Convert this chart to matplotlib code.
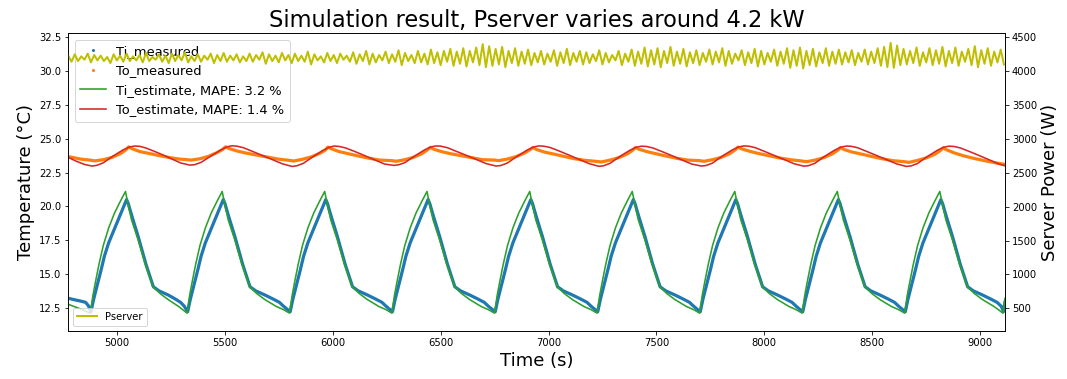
import numpy as np
import matplotlib
matplotlib.use("Agg")
import matplotlib.pyplot as plt
from matplotlib.lines import Line2D

title = "Simulation result, Pserver varies around 4.2 kW"
x_label = "Time (s)"
y_label = "Temperature (°C)"
y2_label = "Server Power (W)"

# Ti measured (blue)
ti_meas_t = [4775, 4800, 4830, 4855, 4868,
             4880, 4892, 4911, 4927, 4942, 4962, 4988, 5017, 5045,
             5053, 5060, 5073, 5099, 5135, 5169, 5195, 5238, 5270, 5295, 5313,
             5328, 5340, 5359, 5375, 5390, 5410, 5436, 5465, 5493,
             5501, 5508, 5521, 5547, 5583, 5617, 5643, 5686, 5723, 5753, 5773,
             5803, 5815, 5834, 5850, 5865, 5885, 5911, 5940, 5968,
             5976, 5983, 5996, 6022, 6058, 6092, 6118, 6161, 6198, 6228, 6248,
             6277, 6289, 6308, 6324, 6339, 6359, 6385, 6414, 6442,
             6450, 6457, 6470, 6496, 6532, 6566, 6592, 6635, 6672, 6702, 6722,
             6753, 6765, 6784, 6800, 6815, 6835, 6861, 6890, 6918,
             6926, 6933, 6946, 6972, 7008, 7042, 7068, 7111, 7148, 7178, 7198,
             7228, 7240, 7259, 7275, 7290, 7310, 7336, 7365, 7393,
             7401, 7408, 7421, 7447, 7483, 7517, 7543, 7586, 7623, 7653, 7673,
             7703, 7715, 7734, 7750, 7765, 7785, 7811, 7840, 7868,
             7876, 7883, 7896, 7922, 7958, 7992, 8018, 8061, 8098, 8128, 8148,
             8178, 8190, 8209, 8225, 8240, 8260, 8286, 8315, 8343,
             8351, 8358, 8371, 8397, 8433, 8467, 8493, 8536, 8573, 8603, 8623,
             8653, 8665, 8684, 8700, 8715, 8735, 8761, 8790, 8818,
             8826, 8833, 8846, 8872, 8908, 8942, 8968, 9011, 9048, 9078, 9098,
             9108, 9115]
ti_meas = [13.2, 13.1, 13.0, 12.9, 12.65,
           12.2, 13.1, 14.3, 15.3, 16.3, 17.3, 18.3, 19.4, 20.5,
           20.2, 19.8, 19.1, 17.75, 15.7, 14.05, 13.75, 13.44, 13.15, 12.9, 12.6,
           12.2, 13.1, 14.3, 15.3, 16.3, 17.3, 18.3, 19.4, 20.5,
           20.2, 19.8, 19.1, 17.75, 15.7, 14.05, 13.75, 13.44, 13.15, 12.9, 12.6,
           12.2, 13.1, 14.3, 15.3, 16.3, 17.3, 18.3, 19.4, 20.5,
           20.2, 19.8, 19.1, 17.75, 15.7, 14.05, 13.75, 13.44, 13.15, 12.9, 12.6,
           12.2, 13.1, 14.3, 15.3, 16.3, 17.3, 18.3, 19.4, 20.5,
           20.2, 19.8, 19.1, 17.75, 15.7, 14.05, 13.75, 13.44, 13.15, 12.9, 12.6,
           12.2, 13.1, 14.3, 15.3, 16.3, 17.3, 18.3, 19.4, 20.5,
           20.2, 19.8, 19.1, 17.75, 15.7, 14.05, 13.75, 13.44, 13.15, 12.9, 12.6,
           12.2, 13.1, 14.3, 15.3, 16.3, 17.3, 18.3, 19.4, 20.5,
           20.2, 19.8, 19.1, 17.75, 15.7, 14.05, 13.75, 13.44, 13.15, 12.9, 12.6,
           12.2, 13.1, 14.3, 15.3, 16.3, 17.3, 18.3, 19.4, 20.5,
           20.2, 19.8, 19.1, 17.75, 15.7, 14.05, 13.75, 13.44, 13.15, 12.9, 12.6,
           12.2, 13.1, 14.3, 15.3, 16.3, 17.3, 18.3, 19.4, 20.5,
           20.2, 19.8, 19.1, 17.75, 15.7, 14.05, 13.75, 13.44, 13.15, 12.9, 12.6,
           12.2, 13.1, 14.3, 15.3, 16.3, 17.3, 18.3, 19.4, 20.5,
           20.2, 19.8, 19.1, 17.75, 15.7, 14.05, 13.75, 13.44, 13.15, 12.9, 12.6,
           12.2, 12.9]

# Ti estimate (green)
ti_est_t = [4775, 4825,
            4877, 4889, 4902, 4917, 4937, 4962, 4989, 5017, 5040,
            5050, 5068, 5099, 5130, 5168, 5200, 5238, 5290,
            5325, 5337, 5350, 5365, 5385, 5410, 5437, 5465, 5488,
            5498, 5516, 5547, 5578, 5616, 5648, 5686, 5738, 5773,
            5800, 5812, 5825, 5840, 5860, 5885, 5912, 5940, 5963,
            5973, 5991, 6022, 6053, 6091, 6123, 6161, 6213, 6248,
            6274, 6286, 6299, 6314, 6334, 6359, 6386, 6414, 6437,
            6447, 6465, 6496, 6527, 6565, 6597, 6635, 6687, 6722,
            6750, 6762, 6775, 6790, 6810, 6835, 6862, 6890, 6913,
            6923, 6941, 6972, 7003, 7041, 7073, 7111, 7163, 7198,
            7225, 7237, 7250, 7265, 7285, 7310, 7337, 7365, 7388,
            7398, 7416, 7447, 7478, 7516, 7548, 7586, 7638, 7673,
            7700, 7712, 7725, 7740, 7760, 7785, 7812, 7840, 7863,
            7873, 7891, 7922, 7953, 7991, 8023, 8061, 8113, 8148,
            8175, 8187, 8200, 8215, 8235, 8260, 8287, 8315, 8338,
            8348, 8366, 8397, 8428, 8466, 8498, 8536, 8588, 8623,
            8650, 8662, 8675, 8690, 8710, 8735, 8762, 8790, 8813,
            8823, 8841, 8872, 8903, 8941, 8973, 9011, 9063, 9085,
            9105, 9115]
ti_est = [12.75, 12.45,
          12.1, 13.4, 14.5, 15.7, 17.1, 18.4, 19.5, 20.4, 21.1,
          20.3, 19.0, 17.5, 15.8, 14.05, 13.55, 13.1, 12.55,
          12.1, 13.4, 14.5, 15.7, 17.1, 18.4, 19.5, 20.4, 21.1,
          20.3, 19.0, 17.5, 15.8, 14.05, 13.55, 13.1, 12.6, 12.35,
          12.1, 13.4, 14.5, 15.7, 17.1, 18.4, 19.5, 20.4, 21.1,
          20.3, 19.0, 17.5, 15.8, 14.05, 13.55, 13.1, 12.6, 12.35,
          12.1, 13.4, 14.5, 15.7, 17.1, 18.4, 19.5, 20.4, 21.1,
          20.3, 19.0, 17.5, 15.8, 14.05, 13.55, 13.1, 12.6, 12.35,
          12.1, 13.4, 14.5, 15.7, 17.1, 18.4, 19.5, 20.4, 21.1,
          20.3, 19.0, 17.5, 15.8, 14.05, 13.55, 13.1, 12.6, 12.35,
          12.1, 13.4, 14.5, 15.7, 17.1, 18.4, 19.5, 20.4, 21.1,
          20.3, 19.0, 17.5, 15.8, 14.05, 13.55, 13.1, 12.6, 12.35,
          12.1, 13.4, 14.5, 15.7, 17.1, 18.4, 19.5, 20.4, 21.1,
          20.3, 19.0, 17.5, 15.8, 14.05, 13.55, 13.1, 12.6, 12.35,
          12.1, 13.4, 14.5, 15.7, 17.1, 18.4, 19.5, 20.4, 21.1,
          20.3, 19.0, 17.5, 15.8, 14.05, 13.55, 13.1, 12.6, 12.35,
          12.1, 13.4, 14.5, 15.7, 17.1, 18.4, 19.5, 20.4, 21.1,
          20.3, 19.0, 17.5, 15.8, 14.05, 13.55, 13.1, 12.6, 12.35,
          12.1, 13.2]

# To measured (orange)
to_meas_t = [4775, 4800, 4830, 4855,
             4877, 4897, 4937, 4977, 5017, 5042, 5055, 5072, 5107, 5147, 5197, 5247, 5287,
             5325, 5345, 5385, 5425, 5465, 5490, 5503, 5520, 5555, 5595, 5645, 5695, 5745,
             5800, 5820, 5860, 5900, 5940, 5965, 5978, 5995, 6030, 6070, 6120, 6170, 6220,
             6274, 6294, 6334, 6374, 6414, 6439, 6452, 6469, 6504, 6544, 6594, 6644, 6694,
             6750, 6770, 6810, 6850, 6890, 6915, 6928, 6945, 6980, 7020, 7070, 7120, 7170,
             7225, 7245, 7285, 7325, 7365, 7390, 7403, 7420, 7455, 7495, 7545, 7595, 7645,
             7700, 7720, 7760, 7800, 7840, 7865, 7878, 7895, 7930, 7970, 8020, 8070, 8120,
             8175, 8195, 8235, 8275, 8315, 8340, 8353, 8370, 8405, 8445, 8495, 8545, 8595,
             8650, 8670, 8710, 8750, 8790, 8815, 8828, 8845, 8880, 8920, 8970, 9020, 9070,
             9115]
to_meas = [23.68, 23.6, 23.5, 23.45,
           23.42, 23.36, 23.45, 23.62, 23.9, 24.18, 24.4, 24.25, 24.05, 23.92, 23.75, 23.6, 23.5,
           23.45, 23.42, 23.52, 23.7, 23.98, 24.2, 24.4, 24.28, 24.1, 23.95, 23.8, 23.65, 23.5,
           23.4, 23.35, 23.48, 23.65, 23.92, 24.15, 24.38, 24.25, 24.05, 23.9, 23.72, 23.55, 23.42,
           23.38, 23.33, 23.45, 23.62, 23.9, 24.18, 24.36, 24.22, 24.05, 23.9, 23.75, 23.6, 23.45,
           23.42, 23.38, 23.5, 23.68, 23.95, 24.2, 24.35, 24.2, 24.02, 23.88, 23.7, 23.52, 23.4,
           23.32, 23.28, 23.42, 23.6, 23.88, 24.15, 24.35, 24.22, 24.05, 23.9, 23.72, 23.55, 23.42,
           23.38, 23.33, 23.45, 23.62, 23.9, 24.18, 24.38, 24.25, 24.08, 23.92, 23.75, 23.58, 23.45,
           23.35, 23.3, 23.42, 23.6, 23.88, 24.15, 24.35, 24.2, 24.02, 23.88, 23.7, 23.52, 23.38,
           23.3, 23.25, 23.4, 23.58, 23.85, 24.12, 24.32, 24.18, 23.95, 23.75, 23.55, 23.38, 23.22,
           23.1]

# To estimate (red)
to_est_t = [4775, 4810, 4850,
            4885, 4907, 4937, 4977, 5027, 5057, 5082, 5105, 5132, 5172, 5217, 5262, 5297,
            5338, 5360, 5390, 5430, 5480, 5510, 5533, 5556, 5586, 5626, 5676, 5726, 5766,
            5812, 5834, 5864, 5904, 5954, 5984, 6007, 6030, 6060, 6100, 6150, 6200, 6240,
            6283, 6305, 6335, 6375, 6425, 6455, 6478, 6501, 6531, 6571, 6621, 6671, 6711,
            6757, 6779, 6809, 6849, 6899, 6929, 6955, 6978, 7008, 7048, 7098, 7148, 7188,
            7233, 7255, 7285, 7325, 7375, 7405, 7430, 7453, 7483, 7523, 7573, 7623, 7663,
            7708, 7730, 7760, 7800, 7850, 7880, 7905, 7928, 7958, 7998, 8048, 8098, 8138,
            8183, 8205, 8235, 8275, 8325, 8355, 8380, 8403, 8433, 8473, 8523, 8573, 8613,
            8658, 8680, 8710, 8750, 8800, 8830, 8855, 8878, 8908, 8948, 8998, 9048, 9088,
            9115]
to_est = [23.62, 23.35, 23.1,
          22.98, 23.03, 23.22, 23.66, 24.16, 24.38, 24.46, 24.44, 24.33, 24.08, 23.78, 23.45, 23.2,
          23.05, 23.08, 23.25, 23.66, 24.16, 24.4, 24.48, 24.45, 24.34, 24.08, 23.75, 23.42, 23.15,
          22.95, 23.0, 23.18, 23.62, 24.13, 24.37, 24.46, 24.43, 24.32, 24.07, 23.74, 23.4, 23.13,
          23.03, 23.07, 23.24, 23.67, 24.17, 24.39, 24.47, 24.45, 24.34, 24.08, 23.76, 23.43, 23.16,
          22.98, 23.02, 23.2, 23.64, 24.14, 24.38, 24.47, 24.45, 24.35, 24.1, 23.77, 23.43, 23.16,
          22.96, 23.0, 23.18, 23.63, 24.13, 24.36, 24.45, 24.43, 24.32, 24.07, 23.74, 23.4, 23.13,
          22.98, 23.02, 23.2, 23.66, 24.16, 24.39, 24.47, 24.45, 24.34, 24.08, 23.75, 23.42, 23.15,
          22.97, 23.01, 23.19, 23.65, 24.15, 24.38, 24.46, 24.44, 24.33, 24.07, 23.74, 23.41, 23.14,
          22.95, 22.99, 23.17, 23.63, 24.13, 24.37, 24.45, 24.43, 24.32, 24.07, 23.74, 23.4, 23.12,
          23.0]

# Server power (W), sampled every 15 s from 4775 s
p_start = 4775
p_step = 15
p_w = [4230, 4140, 4250, 4150, 4220, 4170, 4260, 4130, 4240, 4160,
       4230, 4150, 4210, 4120, 4250, 4160, 4230, 4140, 4260, 4150,
       4220, 4160, 4240, 4130, 4270, 4150, 4210, 4170, 4250, 4140,
       4230, 4120, 4260, 4150, 4240, 4160, 4280, 4130, 4220, 4150,
       4250, 4140, 4230, 4170, 4260, 4120, 4240, 4150, 4270, 4140,
       4230, 4160, 4250, 4130, 4220, 4150, 4260, 4140, 4240, 4170,
       4280, 4110, 4250, 4150, 4230, 4130, 4270, 4160, 4240, 4120,
       4260, 4150, 4230, 4140, 4290, 4100, 4250, 4160, 4220, 4130,
       4270, 4150, 4240, 4120, 4260, 4170, 4230, 4140, 4280, 4110,
       4250, 4150, 4300, 4100, 4260, 4130, 4240, 4160, 4290, 4120,
       4250, 4140, 4310, 4090, 4270, 4150, 4240, 4120, 4300, 4130,
       4260, 4100, 4320, 4120, 4280, 4090, 4300, 4140, 4330, 4080,
       4290, 4110, 4340, 4070, 4300, 4130, 4350, 4090, 4400, 4060,
       4370, 4080, 4330, 4100, 4360, 4060, 4300, 4120, 4340, 4080,
       4290, 4110, 4320, 4090, 4270, 4130, 4300, 4100, 4260, 4140,
       4310, 4080, 4280, 4120, 4330, 4090, 4270, 4140, 4300, 4100,
       4280, 4120, 4250, 4150, 4310, 4100, 4270, 4130, 4240, 4160,
       4300, 4090, 4260, 4140, 4320, 4080, 4290, 4110, 4350, 4070,
       4310, 4100, 4340, 4060, 4300, 4120, 4360, 4080, 4290, 4110,
       4330, 4070, 4280, 4120, 4310, 4090, 4270, 4140, 4320, 4100,
       4290, 4130, 4340, 4080, 4300, 4110, 4260, 4160, 4310, 4090,
       4280, 4120, 4330, 4070, 4300, 4100, 4270, 4140, 4320, 4080,
       4290, 4110, 4340, 4050, 4310, 4080, 4350, 4040, 4300, 4090,
       4330, 4070, 4280, 4120, 4340, 4080, 4290, 4110, 4320, 4100,
       4280, 4130, 4310, 4090, 4270, 4140, 4320, 4100, 4290, 4120,
       4340, 4080, 4360, 4060, 4420, 4050, 4380, 4090, 4330, 4100,
       4300, 4120, 4350, 4080, 4280, 4130, 4340, 4090, 4310, 4110,
       4360, 4070, 4300, 4120, 4350, 4080, 4290, 4140, 4330, 4090,
       4370, 4060, 4310, 4110, 4340, 4080, 4290, 4130, 4320, 4100]
p_t = p_start + p_step * np.arange(len(p_w))

series_labels = ["Ti_measured", "To_measured", "Ti_estimate, MAPE: 3.2 %",
                 "To_estimate, MAPE: 1.4 %"]
p_label = "Pserver"

C_BLUE, C_ORANGE, C_GREEN, C_RED, C_Y = "#1f77b4", "#ff7f0e", "#2ca02c", "#d62728", "#bfbf00"

W, H, DPI = 1067, 379, 72
fig = plt.figure(figsize=(W / DPI, H / DPI), dpi=DPI)
left, right, top, bottom = 68.3, 1005.0, 33.3, 330.7
ax = fig.add_axes([left / W, 1 - bottom / H, (right - left) / W, (bottom - top) / H])
ax2 = ax.twinx()

ax.plot(ti_meas_t, ti_meas, color=C_BLUE, lw=3.2, solid_joinstyle="round")
ax.plot(to_meas_t, to_meas, color=C_ORANGE, lw=3.2, solid_joinstyle="round")
ax.plot(ti_est_t, ti_est, color=C_GREEN, lw=1.6)
ax.plot(to_est_t, to_est, color=C_RED, lw=1.6)
ax2.plot(p_t, p_w, color=C_Y, lw=2.0)

ax.set_xlim(4775, 9115)
ax.set_ylim(10.8, 32.8)
ax2.set_ylim(170, 4560)

ax.set_title(title, fontsize=22.5)
ax.set_xlabel(x_label, fontsize=18)
ax.set_ylabel(y_label, fontsize=18)
ax2.set_ylabel(y2_label, fontsize=18)
ax.tick_params(labelsize=10)
ax2.tick_params(labelsize=10)

handles = [
    Line2D([], [], color=C_BLUE, marker=".", linestyle="none", markersize=4),
    Line2D([], [], color=C_ORANGE, marker=".", linestyle="none", markersize=4),
    Line2D([], [], color=C_GREEN, lw=1.6),
    Line2D([], [], color=C_RED, lw=1.6),
]
ax.legend(handles, series_labels, loc="upper left", fontsize=13)
ax2.legend([Line2D([], [], color=C_Y, lw=2.0)], [p_label], loc="lower left", fontsize=10)

fig.savefig("out.png", dpi=DPI)
